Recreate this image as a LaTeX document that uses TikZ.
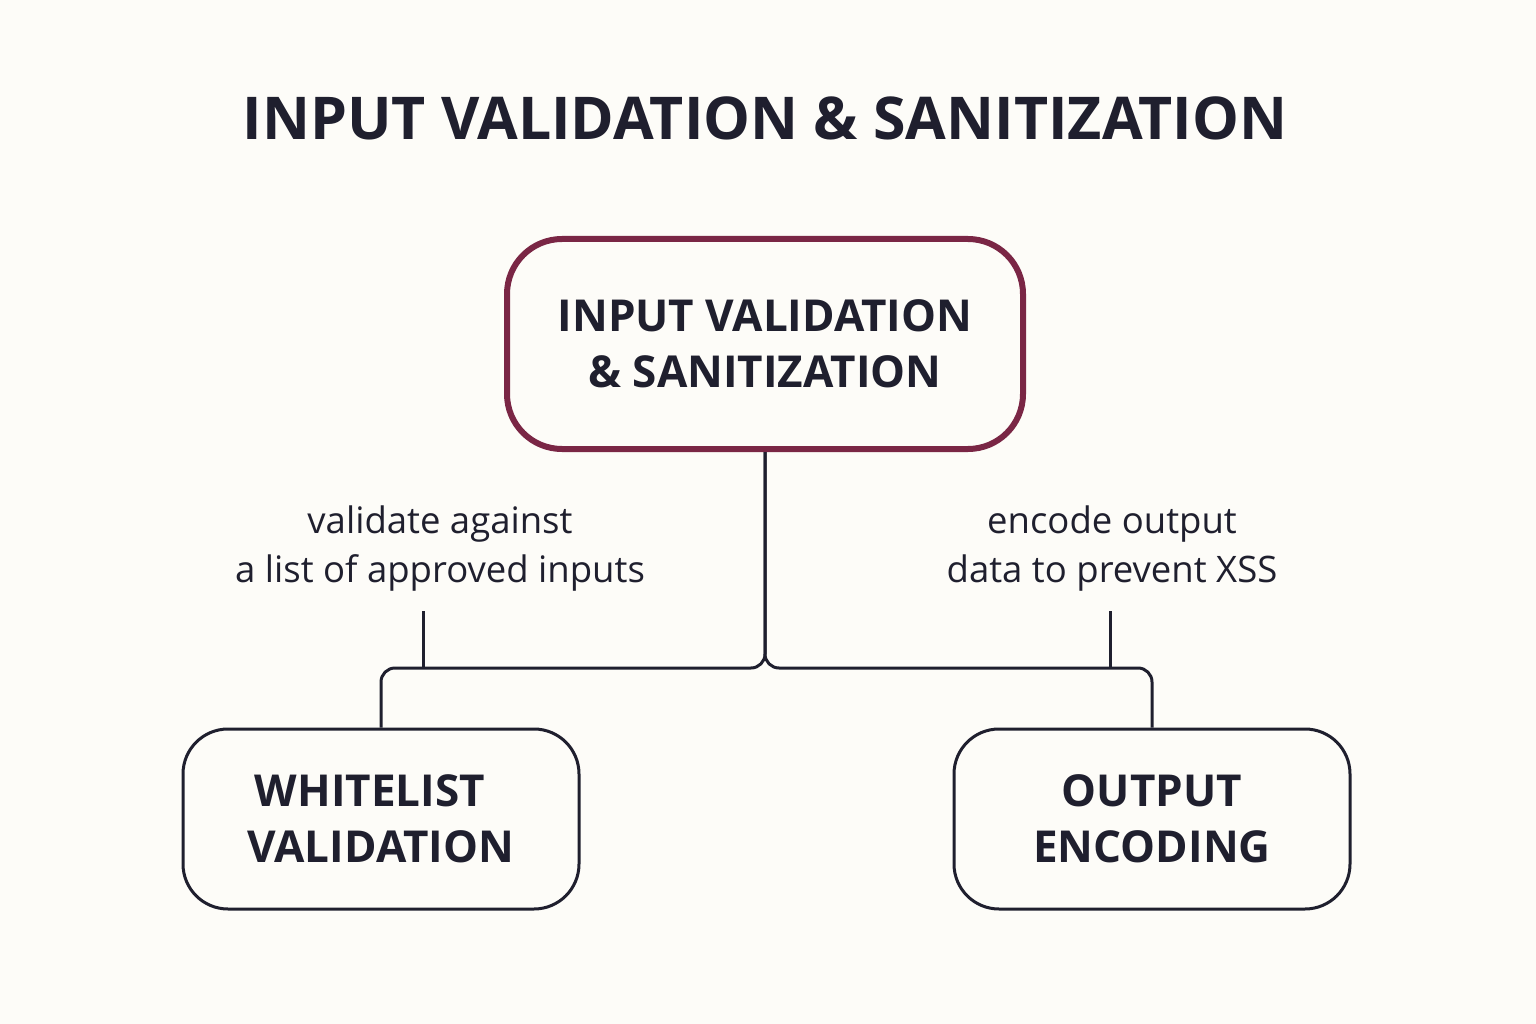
\documentclass[tikz,border=0pt]{standalone}
\usepackage{fontspec}
\setmainfont{Open Sans}
\definecolor{bg}{HTML}{FDFCF8}
\definecolor{ink}{HTML}{1F1F2E}
\definecolor{maroon}{HTML}{7A2645}
\begin{document}
\begin{tikzpicture}[x=1pt,y=-1pt,
  box/.style={draw=ink,line width=3pt,rounded corners=45pt,align=center,font=\fontsize{44}{56}\selectfont\bfseries,text=ink},
  lbl/.style={align=center,font=\fontsize{36.5}{49}\selectfont,text=ink},
  conn/.style={draw=ink,line width=3pt,rounded corners=14pt}]
\fill[bg] (0,0) rectangle (1536,1024);
\useasboundingbox (0,0) rectangle (1536,1024);
\node[font=\fontsize{59}{64}\selectfont\bfseries,text=ink] (title) at (765,118) {INPUT VALIDATION \& SANITIZATION};
\node[box,draw=maroon,line width=6pt,rounded corners=55pt,minimum width=516pt,minimum height=210pt] (top) at (765,344) {INPUT VALIDATION\\\& SANITIZATION};
\node[box,minimum width=396pt,minimum height=180pt] (wl) at (381,819) {\makebox[0pt]{\hspace*{-22pt}WHITELIST}\\VALIDATION};
\node[box,minimum width=396pt,minimum height=180pt] (oe) at (1152,819) {OUTPUT\\ENCODING};
\node[lbl] (l1) at (440,549) {validate against\\a list of approved inputs};
\node[lbl] (l2) at (1112,549) {encode output\\data to prevent XSS};
\coordinate (j) at (765,668);
\draw[conn] (top.south) -- (j) -| (wl.north);
\draw[conn] (top.south) -- (j) -| (oe.north);
\coordinate (t1) at (423,611);
\coordinate (t2) at (1110,611);
\draw[draw=ink,line width=3pt] (t1) -- (423,668);
\draw[draw=ink,line width=3pt] (t2) -- (1110,668);
\end{tikzpicture}
\end{document}
